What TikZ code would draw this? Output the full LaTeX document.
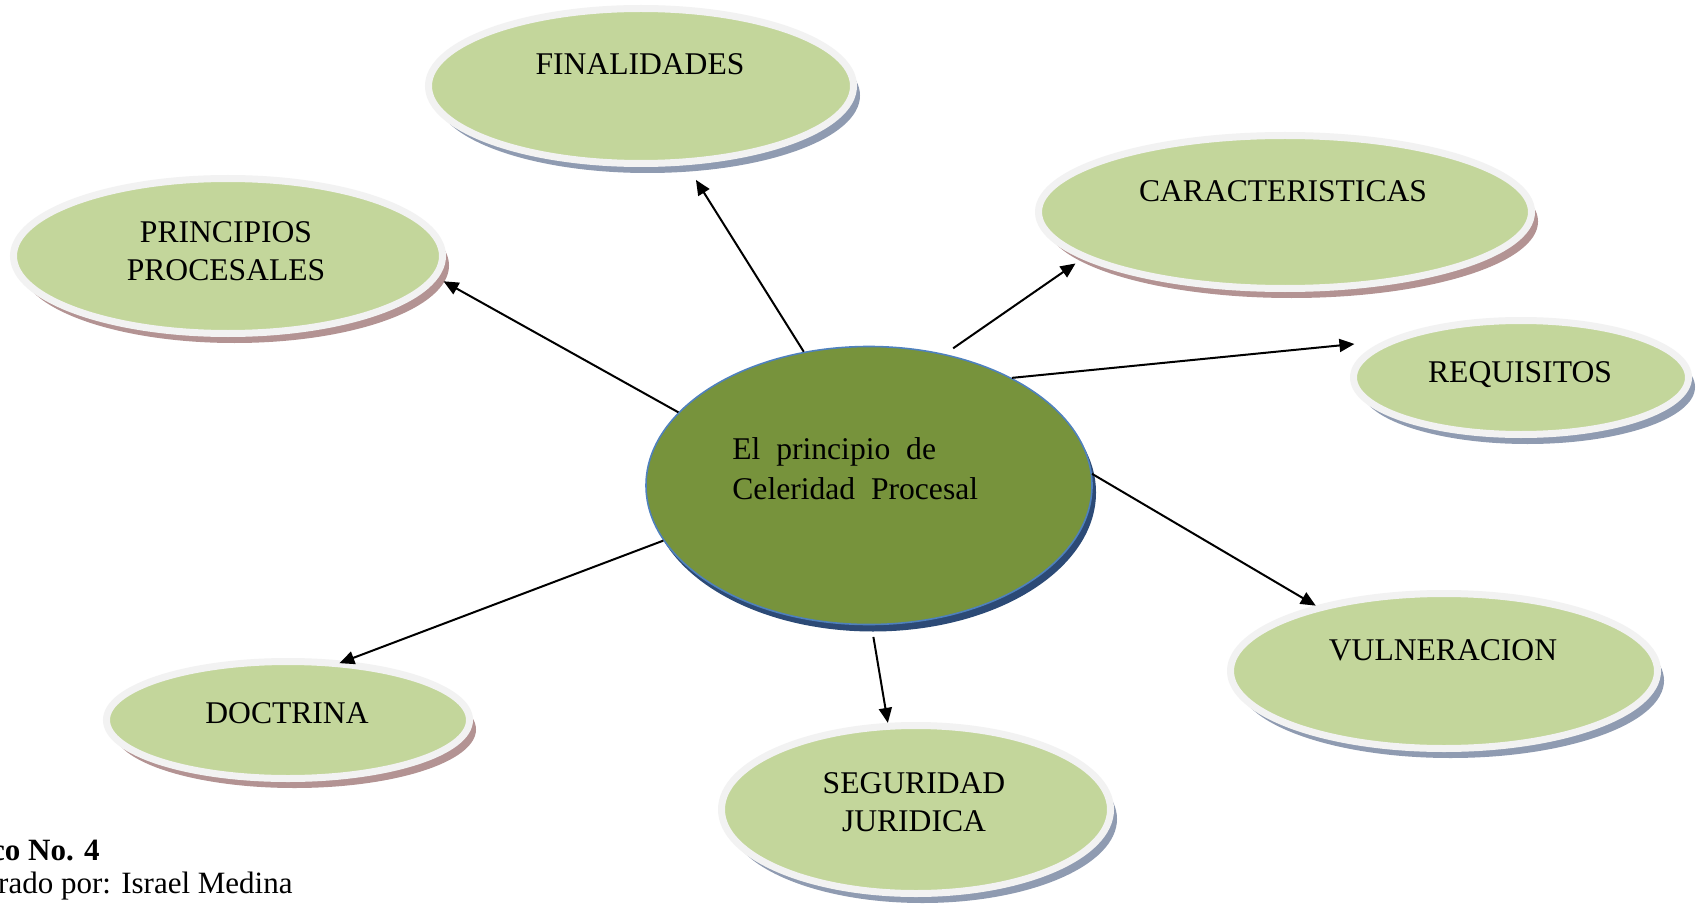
\documentclass[tikz,border=0pt]{standalone}
\usepackage{fontspec}
\setmainfont{Liberation Serif}
\usepackage{xcolor}
\usetikzlibrary{positioning,arrows.meta,shapes.geometric,shadows,calc}
\definecolor{verdeclaro}{HTML}{C3D69B}
\definecolor{verdeosc}{HTML}{77933C}
\definecolor{borde}{HTML}{F2F2F2}
\definecolor{azulb}{HTML}{4F81BD}
\definecolor{sombraroja}{HTML}{B39393}
\definecolor{sombraazul}{HTML}{8F9BB1}
\definecolor{sombraosc}{HTML}{2C4A76}
\begin{document}
\begin{tikzpicture}[x=0.5pt, y=-0.5pt,
  main/.style = {ellipse, draw=borde, line width=3.5pt, fill=verdeclaro, inner sep=0pt},
  rojo/.style = {drop shadow={shadow xshift=3.25pt, shadow yshift=-4.75pt, fill=sombraroja, opacity=1}},
  azul/.style = {drop shadow={shadow xshift=3.25pt, shadow yshift=-4.75pt, fill=sombraazul, opacity=1}},
  txt/.style = {font=\fontsize{15.8}{19}\selectfont, inner sep=0pt, align=center},
  arr/.style = {-{Triangle[length=7.5pt, width=6.5pt]}, line width=1pt}]
      \path[use as bounding box, fill=white] (0,0) rectangle (1701,909);
      %% elipse central
      \node[ellipse, draw=azulb, line width=0.8pt, fill=verdeosc, inner sep=0pt,
        minimum width=223pt, minimum height=139pt,
        drop shadow={shadow xshift=2pt, shadow yshift=-3.5pt, fill=sombraosc, opacity=1}] (cen) at (869,485.5) {};
      \node[main, azul, minimum width=212.5pt, minimum height=77.5pt] (fin) at (641,86) {};
      \node[main, rojo, minimum width=214.5pt, minimum height=77.5pt] (pri) at (228,256) {};
      \node[main, rojo, minimum width=246.5pt, minimum height=76.5pt] (car) at (1285,212) {};
      \node[main, azul, minimum width=167.5pt, minimum height=57pt] (req) at (1521,377.5) {};
      \node[main, azul, minimum width=213.5pt, minimum height=77.5pt] (vul) at (1444,671) {};
      \node[main, azul, minimum width=194.5pt, minimum height=84pt] (seg) at (916,809.5) {};
      \node[main, rojo, minimum width=181.5pt, minimum height=58.5pt] (doc) at (288,720) {};
      %% textos
      \node[txt, font=\fontsize{15.8}{20}\selectfont, align=left, anchor=west] (cen-t) at ($(cen)+(-137,-16.5)$)
        {El\hspace{.5em}principio\hspace{.5em}de\\Celeridad\hspace{.5em}Procesal};
      \node[txt, anchor=base] (fin-t) at ($(fin)+(-1,-11)$) {FINALIDADES};
      \node[txt] (pri-t) at ($(pri)+(-2,-5)$) {PRINCIPIOS\\PROCESALES};
      \node[txt, anchor=base] (car-t) at ($(car)+(-2,-10)$) {CARACTERISTICAS};
      \node[txt, anchor=base] (req-t) at ($(req)+(-1,4.5)$) {REQUISITOS};
      \node[txt, anchor=base] (vul-t) at ($(vul)+(-1,-11)$) {VULNERACION};
      \node[txt] (seg-t) at ($(seg)+(-2,-7.5)$) {SEGURIDAD\\JURIDICA};
      \node[txt, anchor=base] (doc-t) at ($(doc)+(-1,3)$) {DOCTRINA};
      \node[inner sep=0pt, anchor=base east, font=\fontsize{15.5}{18}\selectfont\bfseries] (cap-a) at (100,860) {co No. 4};
      \node[inner sep=0pt, anchor=base east, font=\fontsize{15.5}{18}\selectfont] (cap-b) at (293,893) {rado por: Israel Medina};
      %% flechas
      \draw[arr, shorten >=8.7pt] (cen.116.8) to (fin.-60.45);
      \draw[arr, shorten >=3.3pt] (cen.159.4) to (pri.-6.2);
      \draw[arr, shorten <=5pt, shorten >=4.1pt] (cen.60) to (car.-167.6);
      \draw[arr, shorten >=15.2pt] (cen.37.2) to (req.165.7);
      \draw[arr] (cen.3.1) to (vul.153.9);
      \draw[arr, shorten <=5.9pt] (cen.-89.2) to (seg.108.2);
      \draw[arr, shorten >=-3pt] (cen.-165.9) to (doc.46.8);
\end{tikzpicture}
\end{document}
